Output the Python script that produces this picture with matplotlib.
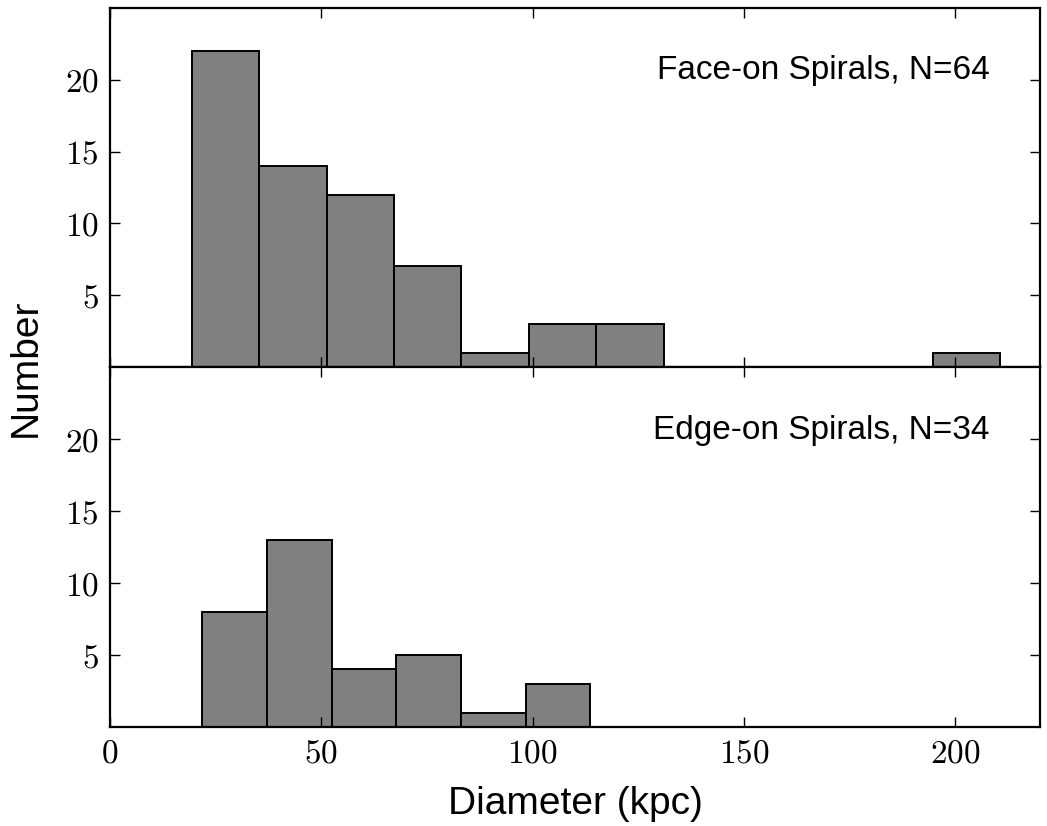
import matplotlib
matplotlib.use("Agg")
import matplotlib.pyplot as plt
from matplotlib.ticker import FuncFormatter, FixedLocator
import numpy as np

plt.rcParams['mathtext.fontset'] = 'cm'
plt.rcParams['font.family'] = ['Liberation Sans', 'DejaVu Sans']

# Face-on spirals histogram
face_edges = [19.4, 35.35, 51.3, 67.2, 83.15, 99.1, 115.0, 130.95, 146.9, 162.8, 178.75, 194.7, 210.6]
face_counts = [22, 14, 12, 7, 1, 3, 3, 0, 0, 0, 0, 1]
face_label = "Face-on Spirals, N=64"

# Edge-on spirals histogram
edge_edges = [21.8, 37.1, 52.4, 67.7, 83.0, 98.3, 113.6]
edge_counts = [8, 13, 4, 5, 1, 3]
edge_label = "Edge-on Spirals, N=34"

xticks = [0, 50, 100, 150, 200]
yticks = [5, 10, 15, 20]

fig = plt.figure(figsize=(10.47, 8.26), dpi=100)
left, right = 110/1047, 1040/1047
top_y, mid_y, bot_y = 1-8/826, 1-367/826, 1-727/826
ax1 = fig.add_axes([left, mid_y, right-left, top_y-mid_y])
ax2 = fig.add_axes([left, bot_y, right-left, mid_y-bot_y])

fmt = FuncFormatter(lambda v, p: r'$%d$' % v)
for ax, edges, counts, lab in [(ax1, face_edges, face_counts, face_label),
                               (ax2, edge_edges, edge_counts, edge_label)]:
    ax.hist(np.array(edges[:-1]), bins=edges, weights=counts,
            facecolor='0.5', edgecolor='black', linewidth=1.4)
    ax.set_xlim(0, 220)
    ax.set_ylim(0, 25)
    ax.xaxis.set_major_locator(FixedLocator(xticks))
    ax.yaxis.set_major_locator(FixedLocator(yticks))
    ax.xaxis.set_major_formatter(fmt)
    ax.yaxis.set_major_formatter(fmt)
    ax.tick_params(direction='in', top=True, right=True, length=7, width=1,
                   labelsize=24, pad=8)
    for s in ax.spines.values():
        s.set_linewidth(1.6)
    ax.text(0.946, 0.825, lab, transform=ax.transAxes, ha='right', va='center',
            fontsize=24)

ax1.tick_params(labelbottom=False)
ax2.set_xlabel("Diameter (kpc)", fontsize=28, labelpad=12)
fig.text(0.025, (top_y+bot_y)/2, "Number", rotation=90, fontsize=28,
         ha='center', va='center')

fig.savefig("out.png", dpi=100)
